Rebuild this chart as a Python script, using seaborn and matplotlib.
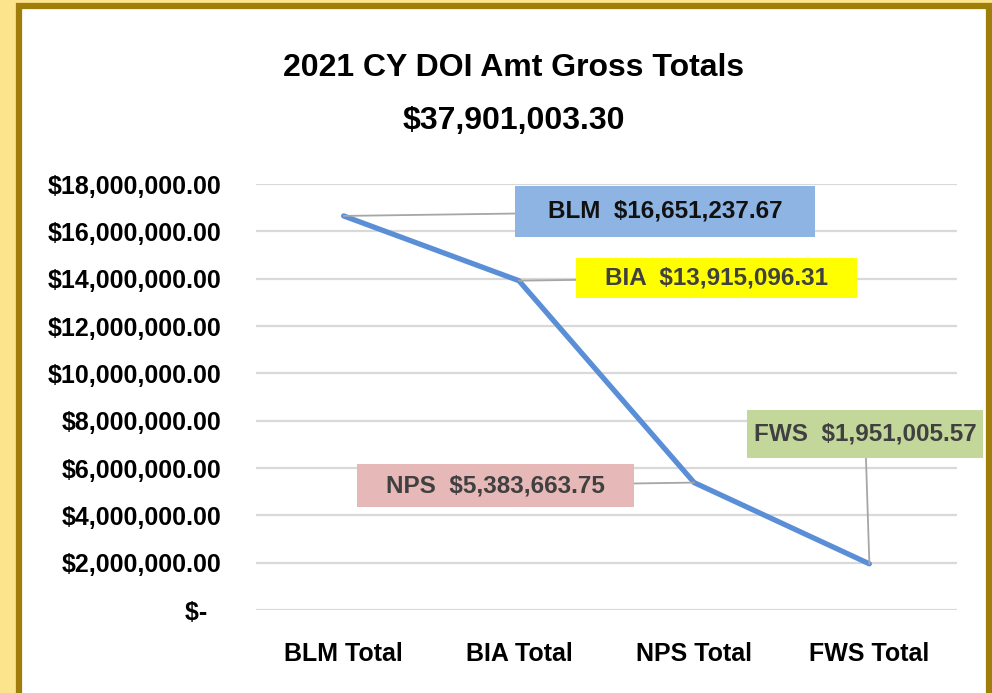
import matplotlib
matplotlib.use('Agg')
import matplotlib.pyplot as plt
from matplotlib.patches import Rectangle
from matplotlib.path import Path
from matplotlib.ticker import FuncFormatter
import pandas as pd
import seaborn as sns

# ================================================================
# Data
# ================================================================
categories = ['BLM Total', 'BIA Total', 'NPS Total', 'FWS Total']
agencies = ['BLM', 'BIA', 'NPS', 'FWS']
amounts = [16651237.67, 13915096.31, 5383663.75, 1951005.57]
total_label = '$37,901,003.30'

label_colors = ['#8DB4E2', '#FFFF00', '#E6B8B7', '#C4D79B']
label_text_colors = ['#111111', '#404040', '#404040', '#404040']
# label box centres (category index, value) and box sizes in pixels
label_pos = [(1.835, 16.84e6), (2.128, 14.03e6), (0.867, 5.26e6), (2.976, 7.44e6)]
label_box = [(300, 51), (281, 40), (277, 43), (236, 48)]

df = pd.DataFrame({'category': categories, 'amount': amounts})


def fixed_box(w, h):
    # box of a fixed pixel size centred on the text
    def style(x0, y0, width, height, mutation_size):
        cx, cy = x0 + width / 2, y0 + height / 2
        l, r, b, t = cx - w / 2, cx + w / 2, cy - h / 2, cy + h / 2
        return Path([(l, b), (r, b), (r, t), (l, t), (l, b)], closed=True)
    return style


# ================================================================
# Plot
# ================================================================
sns.set_style('white')
plt.rcParams['font.family'] = ['Liberation Sans Narrow', 'Liberation Sans', 'DejaVu Sans']
plt.rcParams['text.color'] = 'black'

fig = plt.figure(figsize=(9.92, 6.93), dpi=100)
fig.patch.set_facecolor('#FCE48C')

# white panel with gold frame
panel = Rectangle((18.5 / 992, -0.02), (989 - 18.5) / 992, 1 - 6 / 693 + 0.02,
                  transform=fig.transFigure, facecolor='white', edgecolor='#9E7D0A',
                  linewidth=4.5, zorder=-10)
fig.patches.append(panel)

ax = fig.add_axes([256 / 992, 1 - 610 / 693, (957 - 256) / 992, (610 - 184) / 693])
ax.set_facecolor('none')
ax.set_zorder(1)

sns.lineplot(data=df, x='category', y='amount', ax=ax, color='#5A8FD8',
             linewidth=3.8, sort=False, solid_capstyle='round', zorder=3)

ax.set_ylim(0, 18e6)
ax.set_xlim(-0.5, 3.5)
ax.set_yticks(range(0, 18000001, 2000000))
ax.yaxis.set_major_formatter(FuncFormatter(
    lambda v, p: '$-  ' if v == 0 else f'${v:,.2f}'))
ax.grid(axis='y', color='#D9D9D9', linewidth=1.6)
ax.set_axisbelow(True)
for s in ax.spines.values():
    s.set_visible(False)
ax.tick_params(axis='y', length=0, pad=25, labelsize=18)
ax.tick_params(axis='x', length=0, pad=23, labelsize=18)
for t in ax.get_yticklabels() + ax.get_xticklabels():
    t.set_fontweight('bold')
    t.set_color('black')
ax.set_xlabel('')
ax.set_ylabel('')

# data labels with leader lines
for i in range(len(agencies)):
    ax.annotate(f'{agencies[i]}  ${amounts[i]:,.2f}', xy=(i, amounts[i]),
                xytext=label_pos[i], textcoords='data', ha='center', va='center',
                fontsize=17.5, fontweight='bold', color=label_text_colors[i],
                bbox=dict(boxstyle=fixed_box(*label_box[i]), facecolor=label_colors[i],
                          edgecolor='none'),
                arrowprops=dict(arrowstyle='-', color='#A6A6A6', lw=1.3,
                                shrinkA=0, shrinkB=0),
                zorder=4)

fig.text(514 / 992, 1 - 68 / 693, '2021 CY DOI Amt Gross Totals', ha='center',
         va='center', fontsize=23, fontweight='bold')
fig.text(514 / 992, 1 - 121 / 693, total_label, ha='center', va='center',
         fontsize=23, fontweight='bold')

fig.savefig('out.png', dpi=100, facecolor=fig.get_facecolor())
